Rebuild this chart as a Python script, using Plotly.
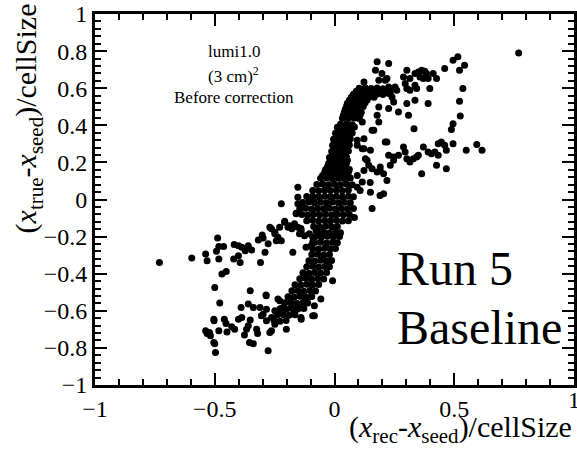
import plotly.graph_objects as go

# (x_rec - x_seed)/cellSize , (x_true - x_seed)/cellSize pairs, grouped by region

# dense steep band through the origin
core = [
    (0.103, 0.600), (0.128, 0.602), (0.153, 0.598), (0.178, 0.601), (0.202, 0.597), (0.227, 0.600),
    (0.091, 0.584), (0.116, 0.585), (0.140, 0.583), (0.165, 0.586), (0.190, 0.584), (0.215, 0.585),
    (0.079, 0.568), (0.103, 0.566), (0.128, 0.570), (0.153, 0.567), (0.178, 0.569), (0.202, 0.566), (0.227, 0.571),
    (0.070, 0.551), (0.095, 0.552), (0.120, 0.550), (0.145, 0.553), (0.165, 0.551),
    (0.062, 0.535), (0.087, 0.537), (0.112, 0.533), (0.136, 0.536),
    (0.054, 0.519), (0.079, 0.520), (0.103, 0.518), (0.128, 0.521),
    (0.050, 0.503), (0.074, 0.501), (0.099, 0.505), (0.120, 0.502),
    (0.045, 0.486), (0.070, 0.487), (0.095, 0.485),
    (0.041, 0.470), (0.066, 0.472), (0.091, 0.468), (0.112, 0.471),
    (0.037, 0.454), (0.062, 0.455), (0.087, 0.453), (0.107, 0.456),
    (0.033, 0.438), (0.058, 0.436), (0.083, 0.440), (0.103, 0.437),
    (0.025, 0.405), (0.050, 0.407), (0.074, 0.403),
    (0.012, 0.389), (0.037, 0.390), (0.062, 0.388), (0.083, 0.391),
    (0.017, 0.373), (0.041, 0.371), (0.066, 0.375),
    (0.004, 0.357), (0.029, 0.358), (0.054, 0.356), (0.074, 0.359),
    (0.008, 0.341), (0.033, 0.343), (0.058, 0.339),
    (-0.004, 0.325), (0.021, 0.326), (0.045, 0.324), (0.066, 0.327),
    (0.008, 0.308), (0.033, 0.306), (0.058, 0.310),
    (-0.008, 0.292), (0.017, 0.293), (0.041, 0.291), (0.062, 0.294),
    (0.004, 0.276), (0.029, 0.278), (0.054, 0.274),
    (-0.012, 0.259), (0.012, 0.260), (0.037, 0.258), (0.058, 0.261),
    (-0.008, 0.243), (0.017, 0.241), (0.041, 0.245),
    (-0.021, 0.227), (0.004, 0.228), (0.029, 0.226), (0.050, 0.229),
    (-0.017, 0.211), (0.008, 0.213), (0.033, 0.209), (0.054, 0.212),
    (-0.025, 0.194), (0.000, 0.195), (0.025, 0.193), (0.050, 0.196),
    (-0.029, 0.178), (-0.004, 0.180), (0.021, 0.176), (0.045, 0.179),
    (-0.037, 0.162), (-0.012, 0.163), (0.012, 0.161), (0.037, 0.164), (0.062, 0.162),
    (-0.041, 0.146), (-0.017, 0.144), (0.008, 0.148), (0.033, 0.145), (0.058, 0.147),
    (-0.050, 0.130), (-0.025, 0.131), (0.000, 0.129), (0.025, 0.132), (0.050, 0.130),
    (-0.058, 0.114), (-0.033, 0.116), (-0.008, 0.112), (0.017, 0.115), (0.041, 0.113), (0.066, 0.116),
    (-0.074, 0.081), (-0.050, 0.083), (-0.025, 0.079), (0.000, 0.082), (0.025, 0.080), (0.050, 0.083), (0.074, 0.079),
    (-0.091, 0.049), (-0.066, 0.047), (-0.041, 0.051), (-0.017, 0.048), (0.008, 0.050), (0.033, 0.047), (0.058, 0.051),
    (-0.116, 0.016), (-0.091, 0.018), (-0.066, 0.014), (-0.041, 0.017), (-0.017, 0.015), (0.008, 0.018), (0.033, 0.014), (0.058, 0.017), (0.079, 0.015),
    (-0.132, -0.016), (-0.107, -0.014), (-0.083, -0.018), (-0.058, -0.015), (-0.033, -0.017), (-0.008, -0.014), (0.017, -0.018), (0.041, -0.015), (0.066, -0.017),
    (-0.145, -0.049), (-0.120, -0.047), (-0.095, -0.051), (-0.070, -0.048), (-0.045, -0.050), (-0.021, -0.047), (0.004, -0.051), (0.029, -0.048), (0.054, -0.050), (0.079, -0.049),
    (-0.136, -0.081), (-0.112, -0.083), (-0.087, -0.079), (-0.062, -0.082), (-0.037, -0.080), (-0.012, -0.083), (0.012, -0.079), (0.037, -0.082), (0.062, -0.081),
    (-0.116, -0.114), (-0.091, -0.112), (-0.066, -0.116), (-0.041, -0.113), (-0.017, -0.115), (0.008, -0.112), (0.033, -0.116), (0.058, -0.114),
    (0.083, -0.097),
    (-0.087, -0.146), (-0.062, -0.148), (-0.037, -0.144), (-0.012, -0.147), (0.012, -0.145),
    (-0.070, -0.178), (-0.045, -0.176), (-0.021, -0.180), (0.004, -0.177), (0.025, -0.179),
    (-0.079, -0.200), (-0.054, -0.202), (-0.029, -0.198), (-0.004, -0.201), (0.021, -0.199),
    (-0.083, -0.232), (-0.058, -0.230), (-0.033, -0.234), (-0.008, -0.231), (0.012, -0.233),
    (-0.091, -0.265), (-0.066, -0.267), (-0.041, -0.263), (-0.017, -0.266), (0.004, -0.264),
    (-0.095, -0.297), (-0.070, -0.295), (-0.045, -0.299), (-0.021, -0.296),
    (-0.107, -0.330), (-0.083, -0.332), (-0.058, -0.328), (-0.033, -0.331), (-0.012, -0.329),
    (-0.116, -0.362), (-0.091, -0.360), (-0.066, -0.364), (-0.041, -0.361), (-0.021, -0.363),
    (-0.132, -0.395), (-0.107, -0.397), (-0.083, -0.393), (-0.058, -0.396), (-0.033, -0.394),
    (-0.145, -0.427), (-0.120, -0.425), (-0.095, -0.429), (-0.070, -0.426), (-0.045, -0.428),
    (-0.165, -0.459), (-0.140, -0.461), (-0.116, -0.457), (-0.091, -0.460), (-0.066, -0.458),
    (-0.178, -0.492), (-0.153, -0.490), (-0.128, -0.494), (-0.103, -0.491), (-0.079, -0.493),
    (-0.194, -0.524), (-0.169, -0.526), (-0.145, -0.522), (-0.120, -0.525), (-0.095, -0.523),
    (-0.207, -0.557), (-0.182, -0.555), (-0.157, -0.559), (-0.132, -0.556), (-0.112, -0.558),
    (-0.227, -0.589), (-0.202, -0.591), (-0.178, -0.587), (-0.153, -0.590), (-0.128, -0.588),
    (-0.240, -0.622), (-0.215, -0.620), (-0.190, -0.624), (-0.165, -0.621),
    (-0.252, -0.654), (-0.227, -0.656), (-0.202, -0.652),
]

# flat branch running left at about -0.25
left_branch = [
    (-0.731, -0.339), (-0.596, -0.315), (-0.538, -0.294), (-0.532, -0.330), (-0.488, -0.207),
    (-0.483, -0.254), (-0.463, -0.254), (-0.493, -0.279), (-0.483, -0.321), (-0.470, -0.402),
    (-0.452, -0.388), (-0.419, -0.243), (-0.401, -0.249), (-0.387, -0.258), (-0.401, -0.303),
    (-0.421, -0.321), (-0.394, -0.339), (-0.373, -0.276), (-0.360, -0.249), (-0.346, -0.272),
    (-0.318, -0.218), (-0.302, -0.191), (-0.298, -0.207), (-0.309, -0.339), (-0.290, -0.285),
    (-0.270, -0.150), (-0.249, -0.177), (-0.229, -0.150), (-0.243, -0.222), (-0.208, -0.123),
    (-0.194, -0.150), (-0.160, -0.077), (-0.153, -0.023), (-0.139, -0.042), (-0.125, -0.195),
    (-0.105, -0.185), (-0.091, -0.204), (-0.091, -0.231), (-0.098, -0.249), (-0.077, -0.168),
    (-0.222, -0.023), (-0.160, -0.074), (-0.208, -0.117), (-0.187, -0.141), (-0.178, -0.158),
    (-0.167, -0.131), (-0.153, -0.150), (-0.139, -0.168), (-0.146, -0.185), (-0.263, -0.158),
    (-0.249, -0.185), (-0.236, -0.204), (-0.222, -0.222), (-0.277, -0.239), (-0.174, -0.285),
    (-0.119, -0.258), (-0.140, -0.157), (-0.153, 0.066), (-0.153, 0.012), (-0.091, -0.005),
]

# lower branch towards (-0.5, -0.8)
lower_branch = [
    (-0.500, -0.474), (-0.479, -0.558), (-0.503, -0.654), (-0.532, -0.723), (-0.518, -0.735),
    (-0.522, -0.717), (-0.500, -0.777), (-0.497, -0.825), (-0.483, -0.708), (-0.460, -0.645),
    (-0.453, -0.669), (-0.449, -0.714), (-0.429, -0.686), (-0.417, -0.699), (-0.352, -0.492),
    (-0.390, -0.582), (-0.360, -0.564), (-0.339, -0.582), (-0.401, -0.645), (-0.387, -0.636),
    (-0.352, -0.650), (-0.360, -0.681), (-0.367, -0.699), (-0.325, -0.699), (-0.321, -0.723),
    (-0.376, -0.730), (-0.355, -0.771), (-0.339, -0.777), (-0.305, -0.627), (-0.286, -0.515),
    (-0.284, -0.591), (-0.284, -0.654), (-0.277, -0.816), (-0.201, -0.699), (-0.249, -0.672),
    (-0.236, -0.618), (-0.229, -0.546), (-0.215, -0.582), (-0.181, -0.582), (-0.167, -0.609),
    (-0.153, -0.582), (-0.140, -0.636), (-0.124, -0.546), (-0.112, -0.530), (-0.091, -0.627),
    (-0.084, -0.573), (-0.285, -0.519), (-0.270, -0.717), (-0.311, -0.582), (-0.298, -0.618),
    (-0.538, -0.708), (-0.504, -0.771), (-0.504, -0.645), (-0.008, -0.438), (-0.057, -0.537),
    (-0.084, -0.627), (-0.139, -0.645), (-0.263, -0.708), (-0.236, -0.537), (-0.249, -0.600),
    (-0.263, -0.636),
]

# upper plateau near 0.6-0.75
upper_branch = [
    (0.178, 0.742), (0.226, 0.733), (0.171, 0.697), (0.198, 0.679), (0.185, 0.643),
    (0.212, 0.643), (0.123, 0.634), (0.219, 0.652), (0.302, 0.697), (0.288, 0.661),
    (0.315, 0.652), (0.295, 0.625), (0.302, 0.598), (0.315, 0.589), (0.336, 0.616),
    (0.343, 0.598), (0.336, 0.679), (0.350, 0.688), (0.364, 0.697), (0.377, 0.692),
    (0.384, 0.679), (0.371, 0.652), (0.357, 0.661), (0.391, 0.652), (0.412, 0.679),
    (0.426, 0.652), (0.398, 0.598), (0.460, 0.706), (0.495, 0.751), (0.515, 0.769),
    (0.522, 0.697), (0.543, 0.724), (0.536, 0.598), (0.522, 0.530), (0.525, 0.450),
    (0.495, 0.409), (0.488, 0.378), (0.332, 0.382), (0.226, 0.607), (0.233, 0.580),
    (0.253, 0.607), (0.260, 0.589), (0.240, 0.553), (0.247, 0.526), (0.226, 0.490),
    (0.267, 0.472), (0.302, 0.517), (0.309, 0.454), (0.336, 0.535), (0.391, 0.517),
    (0.178, 0.454), (0.185, 0.418), (0.157, 0.373), (0.123, 0.328), (0.212, 0.310),
    (0.185, 0.499), (0.164, 0.373), (0.116, 0.418), (0.219, 0.310), (0.095, 0.319),
    (0.769, 0.790),
]

# second branch rising gently to the right near 0.2-0.3
right_branch = [
    (0.095, 0.292), (0.116, 0.274), (0.150, 0.265), (0.129, 0.220), (0.143, 0.184),
    (0.095, 0.130), (0.123, 0.157), (0.157, 0.166), (0.178, 0.148), (0.191, 0.157),
    (0.205, 0.139), (0.219, 0.103), (0.233, 0.184), (0.226, 0.238), (0.247, 0.229),
    (0.267, 0.238), (0.288, 0.283), (0.295, 0.256), (0.302, 0.220), (0.315, 0.202),
    (0.329, 0.220), (0.343, 0.229), (0.350, 0.238), (0.371, 0.283), (0.391, 0.256),
    (0.405, 0.247), (0.419, 0.256), (0.433, 0.238), (0.433, 0.301), (0.446, 0.310),
    (0.460, 0.292), (0.467, 0.265), (0.495, 0.301), (0.550, 0.265), (0.594, 0.296),
    (0.616, 0.265), (0.364, 0.139), (0.426, 0.184), (0.467, 0.166), (0.150, 0.039),
    (0.205, 0.031), (0.116, 0.094), (0.095, 0.066), (0.123, 0.274), (0.136, 0.211),
    (0.191, 0.175), (0.247, 0.211), (0.157, -0.049), (0.190, 0.022), (0.107, 0.049),
    (0.149, 0.092),
]

groups = [core, left_branch, lower_branch, upper_branch, right_branch]
x_rec = [p[0] for g in groups for p in g]
x_true = [p[1] for g in groups for p in g]

SERIF = "Liberation Serif"

fig = go.Figure(
    go.Scatter(
        x=x_rec, y=x_true, mode="markers",
        marker=dict(color="black", size=7, line=dict(width=0)),
        hoverinfo="skip",
    )
)

axis_common = dict(
    showline=True, linecolor="black", linewidth=3, mirror="allticks",
    ticks="inside", ticklen=12, tickwidth=2, tickcolor="black",
    showgrid=False, zeroline=False, range=[-1, 1],
    tickfont=dict(family=SERIF, size=24, color="black"),
)

fig.update_xaxes(**axis_common, dtick=0.5, tick0=-1,
                 minor=dict(ticks="inside", ticklen=6, tickwidth=2, tickcolor="black", dtick=0.1, showgrid=False))
fig.update_yaxes(**axis_common, dtick=0.2, tick0=-1,
                 minor=dict(ticks="inside", ticklen=6, tickwidth=2, tickcolor="black", dtick=0.04, showgrid=False))

annotations = [
    dict(text="(<i>x</i><sub>rec</sub>-<i>x</i><sub>seed</sub>)/cellSize",
         xref="paper", yref="paper", x=1.0, y=-0.119, xanchor="right", yanchor="middle",
         font=dict(family=SERIF, size=30, color="black"), showarrow=False),
    dict(text="(<i>x</i><sub>true</sub>-<i>x</i><sub>seed</sub>)/cellSize",
         xref="paper", yref="paper", x=-0.139, y=1.035, xanchor="center", yanchor="top",
         textangle=-90, font=dict(family=SERIF, size=30, color="black"), showarrow=False),
    # last x tick label sits on the right page edge
    dict(text="1", xref="x", yref="paper", x=1.0, y=0.0, yanchor="top",
         font=dict(family=SERIF, size=24, color="black"), showarrow=False),
    dict(text="lumi1.0", xref="x", yref="y", x=-0.42, y=0.800,
         font=dict(family=SERIF, size=17, color="black"), showarrow=False),
    dict(text="(3 cm)<sup>2</sup>", xref="x", yref="y", x=-0.42, y=0.672,
         font=dict(family=SERIF, size=17, color="black"), showarrow=False),
    dict(text="Before correction", xref="x", yref="y", x=-0.42, y=0.551,
         font=dict(family=SERIF, size=17, color="black"), showarrow=False),
    dict(text="Run 5", xref="x", yref="y", x=0.252, y=-0.373, xanchor="left",
         font=dict(family=SERIF, size=48, color="black"), showarrow=False),
    dict(text="Baseline", xref="x", yref="y", x=0.252, y=-0.692, xanchor="left",
         font=dict(family=SERIF, size=48, color="black"), showarrow=False),
]

fig.update_layout(
    width=577, height=453,
    margin=dict(l=95, r=0, t=14, b=68),
    plot_bgcolor="white", paper_bgcolor="white",
    showlegend=False, annotations=annotations,
)

fig.write_html("out.html")
